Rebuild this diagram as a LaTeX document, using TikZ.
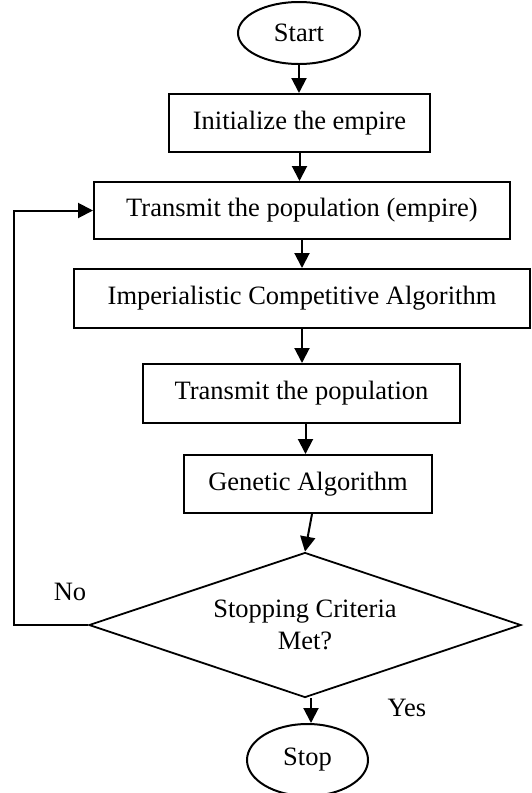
\documentclass[tikz,border=0pt]{standalone}
\usepackage{fontspec}
\setmainfont{Liberation Serif}
\usetikzlibrary{shapes.geometric,arrows.meta}
\begin{document}
\begin{tikzpicture}[x=1pt,y=-1pt,
  every node/.style={font=\fontsize{26.5}{32}\selectfont, inner sep=0pt},
  procbox/.style={draw, line width=2pt, rectangle},
  term/.style={draw, line width=2pt, ellipse},
  decis/.style={draw, line width=1.8pt, diamond, align=center},
  arr/.style={line width=2pt, -{Triangle[length=15pt,width=15pt]}},
  lbl/.style={}]
\useasboundingbox (0,0) rectangle (532,793);
\node[term, minimum width=122pt, minimum height=62pt] (start) at (299,33) {Start};
\node[procbox, minimum width=261pt, minimum height=58pt] (b1) at (299.5,123) {Initialize the empire};
\node[procbox, minimum width=416pt, minimum height=57pt] (b2) at (302,210.5) {Transmit the population (empire)};
\node[procbox, minimum width=456pt, minimum height=59pt] (b3) at (302,298.5) {Imperialistic Competitive Algorithm};
\node[procbox, minimum width=317pt, minimum height=59pt] (b4) at (301.5,393.5) {Transmit the population};
\node[procbox, minimum width=248pt, minimum height=58pt] (b5) at (308,484) {Genetic Algorithm};
\node[decis, minimum width=432pt, minimum height=145pt, aspect=3] (d) at (305,625) {Stopping Criteria\\Met?};
\node[term, minimum width=121pt, minimum height=72pt] (stop) at (307.5,760) {Stop};
\coordinate (fb) at (14,625);
\node[lbl] (no) at (70,592) {No};
\node[lbl] (yes) at (407,708) {Yes};
\draw[arr] (start.south) -- (start.south |- b1.north);
\draw[arr] (b1.south) -- (b1.south |- b2.north);
\draw[arr] (b2.south) -- (b2.south |- b3.north);
\draw[arr] (b3.south) -- (b3.south |- b4.north);
\draw[arr] ([xshift=4pt]b4.south) -- ([xshift=4pt]b4.south |- b5.north);
\draw[arr] ([xshift=4pt]b5.south) -- (d.north);
\draw[arr] ([xshift=6pt]d.south) -- ([xshift=6pt]d.south |- stop.north);
\draw[arr] (d.west) -- (fb) |- (b2.west);
\end{tikzpicture}
\end{document}
